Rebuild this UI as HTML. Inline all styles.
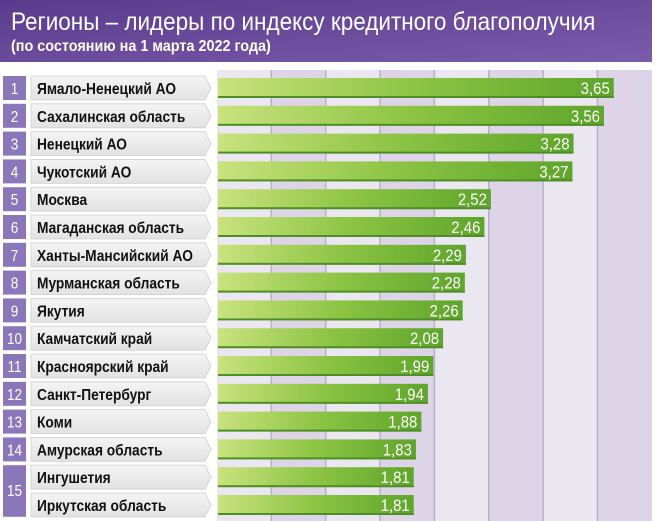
<!DOCTYPE html>
<html><head><meta charset="utf-8"><style>
html,body{margin:0;padding:0;background:#fff;}
svg{display:block;font-family:"Liberation Sans",sans-serif;}
</style></head><body>
<svg id="c" width="663" height="521" viewBox="0 0 663 521">
<defs>
<linearGradient id="hd" x1="0" x2="1" y1="0" y2="1"><stop offset="0" stop-color="#5a3a8c"/><stop offset="1" stop-color="#7b5cab"/></linearGradient>
<linearGradient id="bar" x1="0" x2="1"><stop offset="0" stop-color="#c9e27e"/><stop offset="0.5" stop-color="#8cc443"/><stop offset="1" stop-color="#5ea52b"/></linearGradient>
<linearGradient id="lbl" x1="0" x2="0" y1="0" y2="1"><stop offset="0" stop-color="#f4f4f4"/><stop offset="1" stop-color="#e2e2e2"/></linearGradient>
</defs>
<rect x="0" y="0" width="652" height="62" fill="url(#hd)"/>
<text transform="translate(11,30) scale(0.9,1)" fill="#fff" font-size="25">Регионы – лидеры по индексу кредитного благополучия</text>
<text transform="translate(11,51) scale(0.9,1)" fill="#fff" font-size="16" font-weight="bold">(по состоянию на 1 марта 2022 года)</text>
<g id="plot"></g>
</svg>
<script>
const categories=["Ямало-Ненецкий АО","Сахалинская область","Ненецкий АО","Чукотский АО","Москва","Магаданская область","Ханты-Мансийский АО","Мурманская область","Якутия","Камчатский край","Красноярский край","Санкт-Петербург","Коми","Амурская область","Ингушетия","Иркутская область"];
const values=[3.65,3.56,3.28,3.27,2.52,2.46,2.29,2.28,2.26,2.08,1.99,1.94,1.88,1.83,1.81,1.81];
const ranks=["1","2","3","4","5","6","7","8","9","10","11","12","13","14","15","15"];
const valueLabels=["3,65","3,56","3,28","3,27","2,52","2,46","2,29","2,28","2,26","2,08","1,99","1,94","1,88","1,83","1,81","1,81"];
const gridTicks=[0.5,1,1.5,2,2.5,3,3.5];

const NS="http://www.w3.org/2000/svg";
const g=document.getElementById('plot');
const X0=217,K=108.7,Y0=74,P=27.8;
const x=v=>X0+v*K;
const y=i=>Y0+i*P;
function mk(t,a,p){const e=document.createElementNS(NS,t);for(const k in a)e.setAttribute(k,a[k]);(p||g).appendChild(e);return e;}
const bg=mk('rect',{x:X0,y:70,width:435,height:451,fill:'#e4deec'});


for(let j=0;j<gridTicks.length+1;j++){
  const a=j===0?0:gridTicks[j-1];
  const x1=x(a),x2=j<gridTicks.length?x(gridTicks[j]):652;
  const c=mk('rect',{x:x1,y:70,width:x2-x1,height:451,fill:j%2?'#ddd5e7':'#ebe7f1'});
  
  
}
gridTicks.forEach(t=>{
  const l=mk('line',{x1:x(t),x2:x(t),y1:70,y2:521,stroke:'#b9afcc','stroke-width':1.5});
  
  
});
categories.forEach((c,i)=>{
  const yy=y(i);
  if(i<14){
    const r=mk('rect',{x:3,y:yy+2,width:23,height:24,fill:'#8c76ba'});
    
    
    const t=mk('text',{transform:`translate(14.5,${yy+20}) scale(0.85,1)`,'text-anchor':'middle',fill:'#fff','font-size':16});
    t.textContent=ranks[i];
    
    
  } else if(i===14){
    const r=mk('rect',{x:3,y:yy+2,width:23,height:P*2-4,fill:'#8c76ba'});
    
    
    const t=mk('text',{transform:`translate(14.5,${yy+P+5}) scale(0.85,1)`,'text-anchor':'middle',fill:'#fff','font-size':16});
    t.textContent=ranks[i];
    
    
  }
  const lb=mk('path',{d:`M31 ${yy+2}H205L211 ${yy+14}L205 ${yy+26}H31Z`,fill:'url(#lbl)',stroke:'#cfcfcf','stroke-width':0.8});
  
  
  const lt=mk('text',{transform:`translate(37,${yy+20}) scale(0.86,1)`,fill:'#111','font-size':16,'font-weight':'bold'});
  lt.textContent=c;
  
  
  const b=mk('rect',{x:X0+1,y:yy+4,width:x(values[i])-X0-1,height:20,fill:'url(#bar)'});
  
  
  const sh=mk('rect',{x:X0+1,y:yy+22,width:x(values[i])-X0-1,height:2,fill:'#4e8f25'});
  
  
  const v=mk('text',{transform:`translate(${x(values[i])-4},${yy+20}) scale(0.88,1)`,'text-anchor':'end',fill:'#fff','font-size':17});
  v.textContent=valueLabels[i];
  
  
});
</script>
</body></html>
